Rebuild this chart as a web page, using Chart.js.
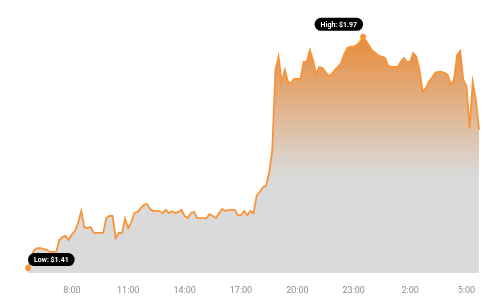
<!DOCTYPE html>
<html><head><meta charset="utf-8">
<script src="https://cdn.jsdelivr.net/npm/chart.js@4/dist/chart.umd.min.js"></script>
<style>html,body{margin:0;padding:0;background:#fff}#wrap{width:483px;height:300px;position:relative}</style>
</head><body><div id="wrap"><canvas id="c"></canvas></div>
<script>
// ---- data ----
const startHour = 5 + 40/60;   // first sample 5:40
const stepMinutes = 10;        // one sample every 10 minutes
const prices = [
1.410,1.439,1.454,1.458,1.458,1.456,1.454,1.449,1.449,1.449,
1.478,1.485,1.488,1.478,1.492,1.500,1.519,1.548,1.509,1.507,
1.509,1.495,1.495,1.495,1.495,1.531,1.536,1.536,1.483,1.495,
1.495,1.529,1.507,1.522,1.543,1.546,1.555,1.563,1.565,1.553,
1.548,1.548,1.548,1.543,1.551,1.543,1.548,1.543,1.546,1.551,
1.536,1.531,1.543,1.546,1.531,1.531,1.531,1.531,1.541,1.536,
1.531,1.543,1.553,1.548,1.551,1.551,1.551,1.538,1.538,1.548,
1.538,1.548,1.543,1.585,1.594,1.606,1.609,1.640,1.696,1.890,
1.922,1.861,1.890,1.861,1.858,1.868,1.868,1.868,1.909,1.909,
1.938,1.914,1.880,1.897,1.895,1.885,1.875,1.880,1.890,1.897,
1.907,1.929,1.943,1.946,1.946,1.951,1.958,1.970,1.960,1.948,
1.936,1.931,1.924,1.922,1.919,1.900,1.897,1.897,1.897,1.909,
1.919,1.909,1.909,1.931,1.922,1.890,1.837,1.846,1.861,1.871,
1.883,1.885,1.885,1.883,1.878,1.854,1.866,1.926,1.936,1.866,
1.851,1.749,1.861,1.817,1.745
];
const tickHours  = [8, 11, 14, 17, 20, 23, 26, 29];
const tickLabels = ["8:00","11:00","14:00","17:00","20:00","23:00","2:00","5:00"];

// ---- build ----
const points = prices.map((p, i) => ({ x: startHour + i * stepMinutes / 60, y: p }));
const lowIdx = prices.indexOf(Math.min(...prices));
const highIdx = prices.indexOf(Math.max(...prices));

function drawTag(ctx, pt, text, align, gap) {
  ctx.save();
  ctx.font = 'bold 7px Roboto';
  const w = ctx.measureText(text).width + 12;
  const h = 13;
  const x = align === 'left' ? pt.x : pt.x - w;
  const y = pt.y - gap - h;
  ctx.beginPath();
  ctx.roundRect(x, y, w, h, h / 2);
  ctx.fillStyle = '#000';
  ctx.fill();
  ctx.fillStyle = '#fff';
  ctx.textAlign = 'center';
  ctx.textBaseline = 'middle';
  ctx.fillText(text, x + w / 2, y + h / 2 + 0.5);
  ctx.restore();
}

const tagPlugin = {
  id: 'tags',
  afterDatasetsDraw(chart) {
    const meta = chart.getDatasetMeta(0);
    drawTag(chart.ctx, meta.data[lowIdx], 'Low: $' + prices[lowIdx].toFixed(2), 'left', 2);
    drawTag(chart.ctx, meta.data[highIdx], 'High: $' + prices[highIdx].toFixed(2), 'right', 6);
  }
};

new Chart(document.getElementById('c'), {
  type: 'line',
  data: {
    datasets: [{
      data: points,
      borderColor: '#f7943a',
      borderWidth: 1.8,
      tension: 0,
      fill: 'start',
      clip: false,
      pointRadius: (c) => (c.dataIndex === lowIdx || c.dataIndex === highIdx) ? 3 : 0,
      pointBackgroundColor: '#f7943a',
      pointBorderWidth: 0,
      backgroundColor: (c) => {
        const chart = c.chart;
        const { ctx, chartArea, scales } = chart;
        if (!chartArea) return '#dadada';
        const g = ctx.createLinearGradient(0, chartArea.top + 25, 0, scales.y.getPixelForValue(1.635));
        g.addColorStop(0, '#e88a38');
        g.addColorStop(1, '#dadada');
        return g;
      }
    }]
  },
  options: {
    responsive: true,
    maintainAspectRatio: false,
    animation: false,
    layout: { padding: { left: 28, right: 3.6, top: 10, bottom: 0 } },
    plugins: { legend: { display: false }, tooltip: { enabled: false } },
    scales: {
      x: {
        type: 'linear',
        min: startHour,
        max: startHour + 24,
        grid: { display: false, drawTicks: false },
        border: { display: false },
        afterFit: (s) => { s.height = 27; s.paddingLeft = 0; s.paddingRight = 0; },
        afterBuildTicks: (s) => { s.ticks = tickHours.map(v => ({ value: v })); },
        ticks: {
          padding: 12,
          color: '#8c8c8c',
          font: { family: 'Roboto', size: 9 },
          callback: (v) => tickLabels[tickHours.indexOf(v)] ?? ''
        }
      },
      y: {
        display: false,
        min: 1.398,
        max: 2.035
      }
    }
  },
  plugins: [tagPlugin]
});
</script>
</body></html>
